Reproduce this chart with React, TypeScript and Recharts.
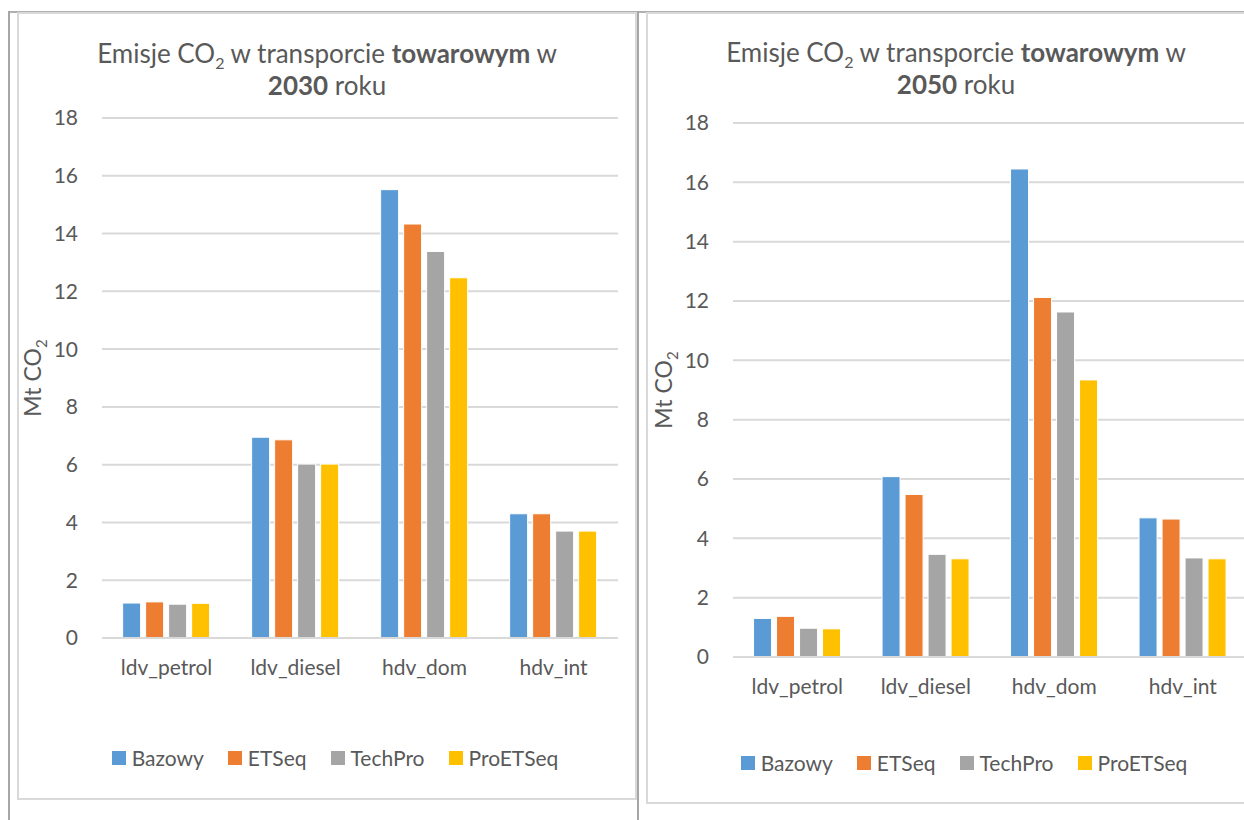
import React from "react";
import { BarChart, Bar, XAxis, YAxis, CartesianGrid, Legend } from "recharts";

const categories = ["ldv_petrol", "ldv_diesel", "hdv_dom", "hdv_int"];
const seriesNames = ["Bazowy", "ETSeq", "TechPro", "ProETSeq"];
const seriesColors = ["#5B9BD5", "#ED7D31", "#A5A5A5", "#FFC000"];
const yTicks = [0, 2, 4, 6, 8, 10, 12, 14, 16, 18];

// Mt CO2, rok 2030
const bazowy2030 = [1.21, 6.95, 15.52, 4.3];
const etseq2030 = [1.25, 6.86, 14.33, 4.3];
const techpro2030 = [1.17, 6.02, 13.38, 3.7];
const proetseq2030 = [1.2, 6.02, 12.47, 3.7];

// Mt CO2, rok 2050
const bazowy2050 = [1.3, 6.08, 16.45, 4.69];
const etseq2050 = [1.37, 5.48, 12.12, 4.65];
const techpro2050 = [0.97, 3.46, 11.63, 3.34];
const proetseq2050 = [0.95, 3.31, 9.34, 3.31];

const FONT = "Lato, 'Noto Sans', sans-serif";
const TEXT = "#595959";
const GRID = "#d9d9d9";

function buildRows(series: number[][]) {
  return categories.map((name, i) => {
    const row: Record<string, string | number> = { name };
    seriesNames.forEach((s, j) => {
      row[s] = series[j][i];
    });
    return row;
  });
}

const data2030 = buildRows([bazowy2030, etseq2030, techpro2030, proetseq2030]);
const data2050 = buildRows([bazowy2050, etseq2050, techpro2050, proetseq2050]);

function AxisTitle(props: any) {
  const { viewBox, labelX } = props;
  const cy = viewBox.y + viewBox.height / 2;
  return (
    <text
      x={labelX}
      y={cy}
      transform={`rotate(-90, ${labelX}, ${cy})`}
      textAnchor="middle"
      fill={TEXT}
      fontSize={23}
      fontFamily={FONT}
    >
      Mt CO
      <tspan fontSize={15} dy={6}>2</tspan>
    </text>
  );
}

// keep legend entries in series order
function LegendRow({ payload }: any) {
  const items = [...(payload || [])].sort(
    (a: any, b: any) => seriesNames.indexOf(a.value) - seriesNames.indexOf(b.value)
  );
  return (
    <div style={{ display: "flex", justifyContent: "center", gap: 24, fontFamily: FONT, fontSize: 21, color: TEXT }}>
      {items.map((p: any) => (
        <div key={p.value} style={{ display: "flex", alignItems: "center", gap: 6 }}>
          <span style={{ width: 14, height: 14, background: p.color, display: "inline-block" }} />
          <span>{p.value}</span>
        </div>
      ))}
    </div>
  );
}

interface PanelProps {
  year: string;
  data: Record<string, string | number>[];
  left: number;
  top: number;
  height: number;
  plotTop: number;
  bottomSpace: number;
  plotLeft: number;
  titleTop: number;
  legendTop: number;
  labelX: number;
}

function Panel({ year, data, left, top, height, plotTop, bottomSpace, plotLeft, titleTop, legendTop, labelX }: PanelProps) {
  const width = 616;
  const yAxisWidth = 60;
  return (
    <div
      style={{
        position: "absolute",
        left,
        top,
        width: width + 4,
        height: height + 4,
        border: `2px solid ${GRID}`,
        boxSizing: "border-box",
        background: "#fff",
      }}
    >
      <div
        style={{
          position: "absolute",
          left: 0,
          top: titleTop,
          width: width,
          textAlign: "center",
          fontFamily: FONT,
          fontSize: 26,
          lineHeight: "32px",
          color: TEXT,
        }}
      >
        <div style={{ height: 32 }}>
          Emisje CO<span style={{ fontSize: 16, position: "relative", top: 6 }}>2</span> w transporcie <b>towarowym</b> w
        </div>
        <div style={{ height: 32 }}>
          <b>{year}</b> roku
        </div>
      </div>
      <BarChart
        width={width}
        height={height}
        data={data}
        margin={{ top: plotTop, right: 17, left: plotLeft - yAxisWidth, bottom: bottomSpace - 40 }}
        barGap={5}
        barCategoryGap="16%"
        style={{ position: "absolute", left: 0, top: 0 }}
      >
        <CartesianGrid vertical={false} stroke={GRID} strokeWidth={2} />
        <XAxis
          dataKey="name"
          height={40}
          tickLine={false}
          axisLine={{ stroke: GRID, strokeWidth: 2 }}
          tickSize={0}
          tickMargin={22}
          tick={{ fill: TEXT, fontSize: 21, fontFamily: FONT }}
        />
        <YAxis
          width={yAxisWidth}
          domain={[0, 18]}
          ticks={yTicks}
          interval={0}
          axisLine={false}
          tickLine={false}
          tickSize={0}
          tickMargin={24}
          tick={{ fill: TEXT, fontSize: 21, fontFamily: FONT }}
          label={{ content: (p: any) => <AxisTitle {...p} labelX={labelX} /> }}
        />
        <Legend
          verticalAlign="middle"
          align="center"
          content={<LegendRow />}
          wrapperStyle={{ top: legendTop, left: 8, width: "100%" }}
        />
        {seriesNames.map((s, i) => (
          <Bar
            key={s}
            dataKey={s}
            name={s}
            fill={seriesColors[i]}
            stroke="#fff"
            strokeWidth={1}
            isAnimationActive={false}
          />
        ))}
      </BarChart>
    </div>
  );
}

export default function App() {
  return (
    <div style={{ position: "absolute", left: 0, top: 0, width: 1244, height: 820, overflow: "hidden", background: "#fff" }}>
      {/* table frame lines */}
      <div style={{ position: "absolute", left: 8, top: 11, width: 1236, height: 2, background: "#b0b0b0" }} />
      <div style={{ position: "absolute", left: 8, top: 11, width: 2, height: 809, background: "#a6a6a6" }} />
      <div style={{ position: "absolute", left: 637, top: 11, width: 2, height: 809, background: "#a6a6a6" }} />
      <Panel
        year="2030"
        data={data2030}
        left={17}
        top={12}
        height={784}
        plotTop={104}
        bottomSpace={160}
        plotLeft={83}
        titleTop={23}
        legendTop={731}
        labelX={22}
      />
      <Panel
        year="2050"
        data={data2050}
        left={646}
        top={12}
        height={788}
        plotTop={109}
        bottomSpace={145}
        plotLeft={85}
        titleTop={22}
        legendTop={736}
        labelX={24}
      />
    </div>
  );
}
